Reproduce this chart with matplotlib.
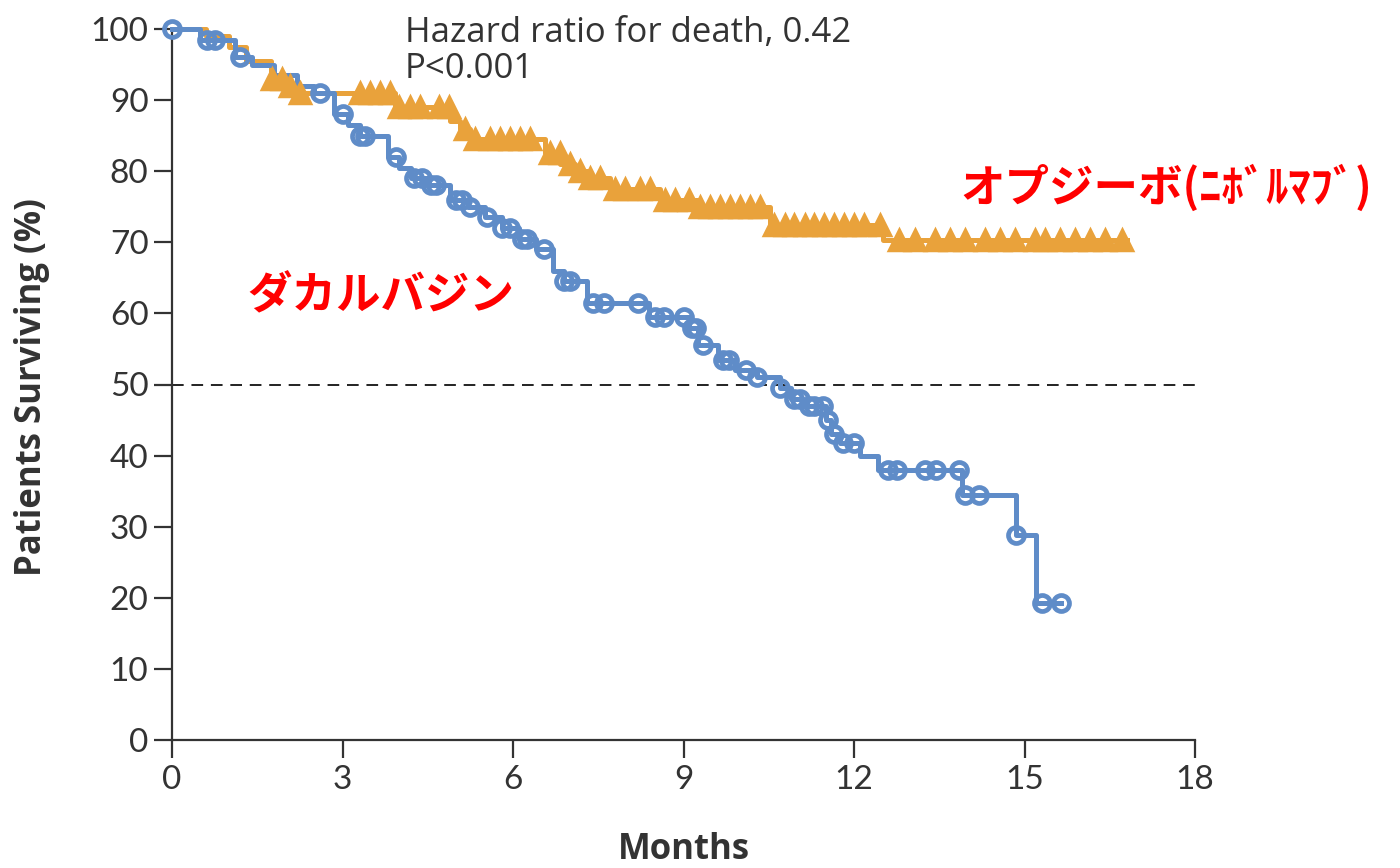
import numpy as np
import matplotlib
matplotlib.use("Agg")
import matplotlib.pyplot as plt

# ---- data ----
# Dacarbazine (blue) step curve: time of drop, survival after drop
daca_t = [0, 0.5, 1.1, 1.4, 1.8, 2.2, 2.5, 2.85, 3.1, 3.3, 3.8, 4.0, 4.2, 4.5, 4.9, 5.2, 5.5,
          5.8, 6.1, 6.4, 6.7, 6.9, 7.3, 8.4, 9.1, 9.25, 9.6, 9.9, 10.3, 10.7, 10.9, 11.1,
          11.5, 11.6, 11.75, 12.1, 12.42, 13.9, 14.85, 15.2]
daca_s = [100, 98.5, 96, 95, 93.5, 92, 91, 88, 86.5, 85, 82, 80.5, 79, 78, 76, 75, 73.5,
          72, 70.5, 69, 66, 64.5, 61.5, 59.5, 58, 55.5, 53.5, 52, 51, 49.5, 48, 47,
          45, 43, 41.8, 40, 38, 34.5, 28.8, 19.3]
daca_cens = [0, 0.62, 0.76, 1.2, 2.6, 3.0, 3.3, 3.4, 3.95, 4.25, 4.4, 4.55, 4.65, 5.0, 5.1,
             5.25, 5.55, 5.8, 5.95, 6.15, 6.25, 6.55, 6.9, 7.0, 7.4, 7.6, 8.2, 8.5, 8.65,
             9.0, 9.15, 9.22, 9.35, 9.7, 9.8, 10.1, 10.3, 10.7, 10.95, 11.05, 11.2, 11.3,
             11.45, 11.55, 11.65, 11.8, 12.0, 12.6, 12.75, 13.25, 13.45, 13.85, 13.95,
             14.2, 14.85, 15.3, 15.65]
daca_end = 15.65

# Nivolumab (orange) step curve
nivo_t = [0, 0.6, 1.0, 1.3, 1.75, 1.95, 2.15, 3.92, 4.9, 5.07, 5.24, 6.56, 6.83, 7.09,
          7.36, 7.7, 8.59, 9.29, 10.52, 12.51]
nivo_s = [100, 99, 97.5, 95.5, 93, 92, 91, 89, 87, 86, 84.5, 82.5, 81, 80, 79, 77.5,
          76, 75, 72.5, 70.3]
nivo_cens = [1.76, 1.94, 2.08, 2.25, 3.3, 3.48, 3.66, 3.84, 4.0, 4.18, 4.36, 4.7, 4.88,
             5.15, 5.33, 5.6, 5.78, 5.95, 6.13, 6.3, 6.65, 6.82, 7.0, 7.18, 7.36, 7.53,
             7.8, 7.97, 8.24, 8.41, 8.67, 8.85, 9.1, 9.29, 9.47, 9.64, 9.82, 10.0, 10.17,
             10.35, 10.6, 10.78, 10.95, 11.13, 11.3, 11.48, 11.65, 11.83, 12.0, 12.18,
             12.45, 12.8, 13.07, 13.42, 13.69, 13.95, 14.3, 14.57, 14.83, 15.18, 15.36,
             15.62, 15.89, 16.15, 16.42, 16.72]
nivo_end = 16.8

x_ticks = [0, 3, 6, 9, 12, 15, 18]
y_ticks = [0, 10, 20, 30, 40, 50, 60, 70, 80, 90, 100]

BLUE = "#5f8cc8"
ORANGE = "#e9a23b"
TXT = "#333333"

plt.rcParams['font.family'] = ['Lato', 'DejaVu Sans']

W, H = 1400, 868
fig = plt.figure(figsize=(W / 100, H / 100), dpi=100)
ax = fig.add_axes([172 / W, 1 - 740 / H, (1195 - 172) / W, (740 - 29) / H])


def step_value(times, surv, t):
    idx = np.searchsorted(times, t, side='right') - 1
    return np.asarray(surv)[idx]


def draw_km(times, surv, end, cens, color, marker, ms, mew, mfc):
    xs = list(times) + [end]
    ys = list(surv) + [surv[-1]]
    ax.step(xs, ys, where='post', color=color, lw=3.6, clip_on=False, zorder=3)
    cy = step_value(times, surv, np.array(cens))
    ax.plot(cens, cy, linestyle='none', marker=marker, ms=ms, mew=mew,
            mec=color, mfc=mfc, clip_on=False, zorder=4)


draw_km(nivo_t, nivo_s, nivo_end, nivo_cens, ORANGE, '^', 14, 2.5, ORANGE)
draw_km(daca_t, daca_s, daca_end, daca_cens, BLUE, 'o', 11.5, 3.4, 'none')

ax.axhline(50, color='#222222', lw=1.4, ls=(0, (6, 4)), zorder=2)

ax.set_xlim(0, 18)
ax.set_ylim(0, 100)
ax.set_xticks(x_ticks)
ax.set_yticks(y_ticks)
for s in ['top', 'right']:
    ax.spines[s].set_visible(False)
for s in ['left', 'bottom']:
    ax.spines[s].set_color(TXT)
    ax.spines[s].set_linewidth(1.6)
ax.tick_params(axis='both', colors=TXT, labelsize=24, length=13, width=1.6,
               direction='out')
ax.tick_params(axis='y', pad=4)
ax.tick_params(axis='x', pad=5)

fig.text(32 / W, 1 - 387 / H, 'Patients Surviving (%)', rotation=90, fontsize=25,
         fontweight='bold', color=TXT, family=['Open Sans', 'DejaVu Sans'],
         ha='center', va='center')
fig.text(684 / W, 1 - 850 / H, 'Months', fontsize=25, fontweight='bold', color=TXT,
         family=['Open Sans', 'DejaVu Sans'], ha='center', va='center')

fig.text(405 / W, 1 - 42 / H, 'Hazard ratio for death, 0.42', fontsize=25, color=TXT,
         family=['Open Sans', 'DejaVu Sans'], ha='left', va='baseline')
fig.text(405 / W, 1 - 78 / H, 'P<0.001', fontsize=25, color=TXT,
         family=['Open Sans', 'DejaVu Sans'], ha='left', va='baseline')

jp = ['Noto Sans CJK JP', 'DejaVu Sans']
fig.text(960 / W, 1 - 188 / H, 'オプジーボ(ﾆﾎﾞﾙﾏﾌﾞ)', fontsize=32,
         fontweight='bold', color='#ff0000', family=jp, va='center', ha='left')
fig.text(247 / W, 1 - 296 / H, 'ダカルバジン', fontsize=32,
         fontweight='bold', color='#ff0000', family=jp, va='center', ha='left')

fig.savefig('out.png', dpi=100, facecolor='white')
